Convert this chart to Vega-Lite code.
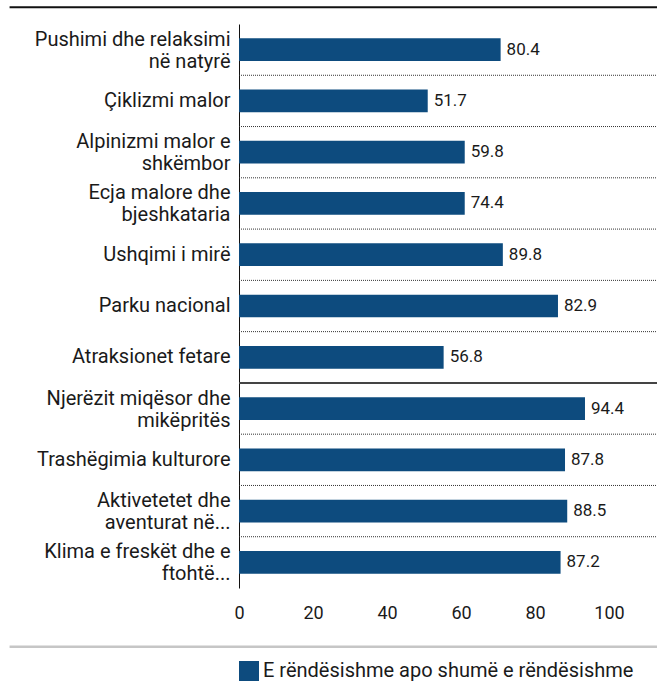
{
  "$schema": "https://vega.github.io/schema/vega-lite/v6.json",
  "width": 420,
  "height": 564,
  "padding": {"left": 8, "top": 6, "right": 0, "bottom": 0},
  "background": "white",
  "config": {
    "font": "Roboto",
    "view": {"stroke": null}
  },
  "data": {
    "values": [
      {"cat": "Pushimi dhe relaksimi\nnë natyrë", "value": 70.7, "label": 80.4, "series": "E rëndësishme apo shumë e rëndësishme"},
      {"cat": "Çiklizmi malor", "value": 51.0, "label": 51.7, "series": "E rëndësishme apo shumë e rëndësishme"},
      {"cat": "Alpinizmi malor e\nshkëmbor", "value": 61.0, "label": 59.8, "series": "E rëndësishme apo shumë e rëndësishme"},
      {"cat": "Ecja malore dhe\nbjeshkataria", "value": 61.0, "label": 74.4, "series": "E rëndësishme apo shumë e rëndësishme"},
      {"cat": "Ushqimi i mirë", "value": 71.3, "label": 89.8, "series": "E rëndësishme apo shumë e rëndësishme"},
      {"cat": "Parku nacional", "value": 86.2, "label": 82.9, "series": "E rëndësishme apo shumë e rëndësishme"},
      {"cat": "Atraksionet fetare", "value": 55.3, "label": 56.8, "series": "E rëndësishme apo shumë e rëndësishme"},
      {"cat": "Njerëzit miqësor dhe\nmikëpritës", "value": 93.5, "label": 94.4, "series": "E rëndësishme apo shumë e rëndësishme"},
      {"cat": "Trashëgimia kulturore", "value": 88.1, "label": 87.8, "series": "E rëndësishme apo shumë e rëndësishme"},
      {"cat": "Aktivetetet dhe\naventurat në...", "value": 88.7, "label": 88.5, "series": "E rëndësishme apo shumë e rëndësishme"},
      {"cat": "Klima e freskët dhe e\nftohtë...", "value": 86.9, "label": 87.2, "series": "E rëndësishme apo shumë e rëndësishme"}
    ]
  },
  "resolve": {"scale": {"y": "independent"}},
  "layer": [
    {
      "encoding": {
        "y": {
          "field": "cat",
          "type": "nominal",
          "sort": null,
          "scale": {"paddingInner": 0.557, "paddingOuter": 0.2785},
          "axis": {
            "title": null,
            "domain": true,
            "domainColor": "#111111",
            "domainWidth": 1,
            "ticks": false,
            "grid": false,
            "labelPadding": 9,
            "labelFontSize": 20,
            "labelColor": "#1a1a1a",
            "labelLineHeight": 22,
            "labelLimit": 300,
            "labelOffset": {"condition": {"test": "indexof(datum.label, '\\n') >= 0", "value": -10}, "value": 0},
            "labelExpr": "split(datum.label, '\\n')"
          }
        },
        "x": {
          "field": "value",
          "type": "quantitative",
          "scale": {"domain": [0, 113.5], "nice": false, "zero": true},
          "axis": {
            "title": null,
            "values": [0, 20, 40, 60, 80, 100],
            "domain": false,
            "ticks": false,
            "grid": false,
            "labelPadding": 16,
            "labelFontSize": 18,
            "labelColor": "#1a1a1a",
            "labelFlush": false
          }
        }
      },
      "layer": [
        {
          "mark": {"type": "bar"},
          "encoding": {
            "color": {
              "field": "series",
              "type": "nominal",
              "scale": {"range": ["#0d4b7e"]},
              "legend": {
                "title": null,
                "orient": "bottom",
                "symbolType": "square",
                "symbolSize": 400,
                "symbolStrokeWidth": 0,
                "labelFontSize": 20,
                "labelColor": "#1a1a1a",
                "labelLimit": 500,
                "offset": 39
              }
            }
          }
        },
        {
          "mark": {"type": "text", "align": "left", "baseline": "middle", "dx": 6, "fontSize": 17, "color": "#1a1a1a"},
          "encoding": {
            "text": {"field": "label", "type": "quantitative", "format": ".1f"}
          }
        }
      ]
    },
    {
      "encoding": {
        "y": {
          "field": "cat",
          "type": "nominal",
          "sort": null,
          "bandPosition": 1,
          "scale": {
            "paddingInner": 0,
            "paddingOuter": 0,
            "domain": [
              "Pushimi dhe relaksimi\nnë natyrë",
              "Çiklizmi malor",
              "Alpinizmi malor e\nshkëmbor",
              "Ecja malore dhe\nbjeshkataria",
              "Ushqimi i mirë",
              "Parku nacional",
              "Atraksionet fetare",
              "Njerëzit miqësor dhe\nmikëpritës",
              "Trashëgimia kulturore",
              "Aktivetetet dhe\naventurat në...",
              "Klima e freskët dhe e\nftohtë..."
            ]
          },
          "axis": null
        }
      },
      "layer": [
        {
          "transform": [{"filter": "datum.cat !== 'Atraksionet fetare' && datum.cat !== 'Klima e freskët dhe e\\nftohtë...'"}],
          "mark": {"type": "rule", "color": "#333333", "strokeWidth": 1, "strokeDash": [1, 1]},
          "encoding": {
            "x": {"datum": 0, "type": "quantitative"},
            "x2": {"datum": 113.5}
          }
        },
        {
          "transform": [{"filter": "datum.cat === 'Atraksionet fetare'"}],
          "mark": {"type": "rule", "color": "#444444", "strokeWidth": 2},
          "encoding": {
            "x": {"datum": 0, "type": "quantitative"},
            "x2": {"datum": 113.5}
          }
        },
        {
          "transform": [{"filter": "datum.cat === 'Pushimi dhe relaksimi\\nnë natyrë'"}],
          "mark": {"type": "rule", "color": "#111111", "strokeWidth": 2, "yOffset": -68},
          "encoding": {
            "x": {"datum": -62, "type": "quantitative"},
            "x2": {"datum": 113.5}
          }
        },
        {
          "transform": [{"filter": "datum.cat === 'Klima e freskët dhe e\\nftohtë...'"}],
          "mark": {"type": "rule", "color": "#c6c6c6", "strokeWidth": 2.5, "yOffset": 58.7},
          "encoding": {
            "x": {"datum": -62, "type": "quantitative"},
            "x2": {"datum": 113.5}
          }
        }
      ]
    }
  ]
}
